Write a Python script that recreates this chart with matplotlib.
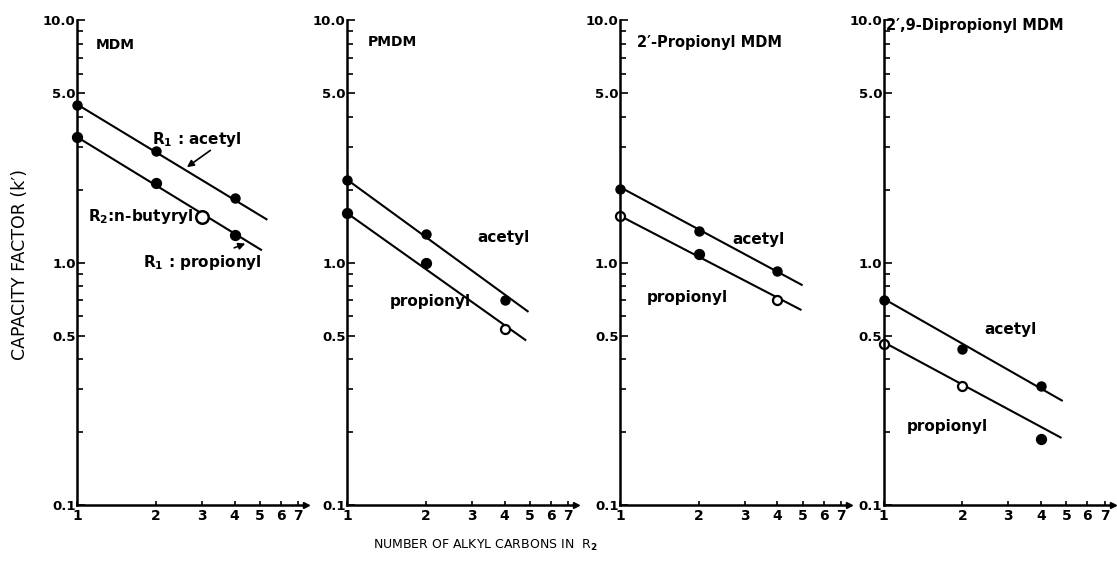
import matplotlib.pyplot as plt
from matplotlib.ticker import FixedLocator, NullFormatter

plt.rcParams['font.family'] = ['DejaVu Sans']
plt.rcParams['font.weight'] = 'bold'

# Datos
titulos = ['MDM', 'PMDM', "2\u2032-Propionyl MDM", "2\u2032,9-Dipropionyl MDM"]

x_acetyl = [[1, 2, 4], [1, 2, 4], [1, 2, 4], [1, 2, 4]]
y_acetyl = [[4.45, 2.9, 1.85], [2.2, 1.31, 0.70], [2.02, 1.35, 0.92], [0.70, 0.44, 0.31]]
x_propionyl = [[1, 2, 4], [1, 2, 4], [1, 2, 4], [1, 2, 4]]
y_propionyl = [[3.3, 2.13, 1.30], [1.6, 1.0, 0.53], [1.56, 1.09, 0.70], [0.46, 0.31, 0.188]]
abierto_propionyl = [[False, False, False], [False, False, True], [True, False, True], [True, True, False]]

# n-butyryl (panel MDM)
x_butyryl = [3]
y_butyryl = [1.54]

# rectas ajustadas (inicio, fin)
lx_acetyl = [[1, 5.3], [1, 4.9], [1, 4.95], [1, 4.8]]
ly_acetyl = [[4.5, 1.51], [2.2, 0.63], [2.05, 0.81], [0.71, 0.27]]
lx_propionyl = [[1, 5.05], [1, 4.8], [1, 4.9], [1, 4.75]]
ly_propionyl = [[3.3, 1.13], [1.6, 0.48], [1.56, 0.64], [0.47, 0.19]]

yticks = [0.1, 0.5, 1.0, 5.0, 10.0]
yticklabels = ['0.1', '0.5', '1.0', '5.0', '10.0']
xticks = [1, 2, 3, 4, 5, 6, 7]
xticklabels = ['1', '2', '3', '4', '5', '6', '7']
yminor = [0.2, 0.3, 0.4, 0.6, 0.7, 0.8, 0.9, 2, 3, 4, 6, 7, 8, 9]

fig = plt.figure(figsize=(11.17, 5.67), dpi=100)
lefts = [0.0689, 0.3107, 0.555, 0.791]
titulo_pos = [(0.08, 0.948), (0.09, 0.955), (0.075, 0.955), (0.01, 0.99)]
titulo_size = [10, 10, 10.5, 10.5]

axes = []
for i in range(4):
    ax = fig.add_axes([lefts[i], 0.1093, 0.205, 0.855])
    axes.append(ax)
    ax.set_xscale('log')
    ax.set_yscale('log')
    ax.set_xlim(1, 7.5)
    ax.set_ylim(0.1, 10)
    for s in ['top', 'right']:
        ax.spines[s].set_visible(False)
    for s in ['left', 'bottom']:
        ax.spines[s].set_linewidth(1.8)
    ax.plot([1], [0], marker='>', color='black', markersize=5,
            transform=ax.transAxes, clip_on=False)

    ax.yaxis.set_major_locator(FixedLocator(yticks))
    ax.set_yticklabels(yticklabels)
    ax.yaxis.set_minor_locator(FixedLocator(yminor))
    ax.yaxis.set_minor_formatter(NullFormatter())
    ax.xaxis.set_major_locator(FixedLocator(xticks))
    ax.set_xticklabels(xticklabels)
    ax.xaxis.set_minor_locator(FixedLocator([]))
    ax.tick_params(axis='y', which='major', direction='in', length=6, width=1.2,
                   labelsize=9.5, pad=1)
    ax.tick_params(axis='y', which='minor', direction='in', length=4, width=1.2)
    ax.tick_params(axis='x', which='major', direction='in', length=3, width=1.2,
                   labelsize=10, pad=3)

    # rectas
    ax.plot(lx_acetyl[i], ly_acetyl[i], color='black', lw=1.5)
    ax.plot(lx_propionyl[i], ly_propionyl[i], color='black', lw=1.5)

    # puntos
    ax.plot(x_acetyl[i], y_acetyl[i], 'o', color='black', markersize=6.5, clip_on=False)
    for xv, yv, ab in zip(x_propionyl[i], y_propionyl[i], abierto_propionyl[i]):
        ax.plot(xv, yv, 'o', markersize=6.5, markeredgecolor='black', markeredgewidth=1.6,
                markerfacecolor='white' if ab else 'black', clip_on=False)

    ax.text(titulo_pos[i][0], titulo_pos[i][1], titulos[i], transform=ax.transAxes,
            fontsize=titulo_size[i], ha='left', va='center')

# MDM
ax = axes[0]
ax.plot(x_butyryl, y_butyryl, 'o', markersize=9, markeredgecolor='black',
        markeredgewidth=1.8, markerfacecolor='white')
ax.text(1.93, 3.22, r'R$_1$ : acetyl', fontsize=11, va='center')
ax.annotate('', xy=(2.58, 2.44), xytext=(3.3, 2.95),
            arrowprops=dict(arrowstyle='-|>', color='black', lw=1.2))
ax.text(1.10, 1.55, r'R$_2$:n-butyryl', fontsize=11, va='center')
ax.text(1.79, 1.0, r'R$_1$ : propionyl', fontsize=11, va='center')
ax.annotate('', xy=(4.5, 1.21), xytext=(3.9, 1.14),
            arrowprops=dict(arrowstyle='-|>', color='black', lw=1.2))

# PMDM
axes[1].text(3.16, 1.27, 'acetyl', fontsize=11, va='center')
axes[1].text(1.46, 0.69, 'propionyl', fontsize=11, va='center')
# 2'-Propionyl
axes[2].text(2.70, 1.24, 'acetyl', fontsize=11, va='center')
axes[2].text(1.27, 0.72, 'propionyl', fontsize=11, va='center')
# 2',9-Dipropionyl
axes[3].text(2.43, 0.53, 'acetyl', fontsize=11, va='center')
axes[3].text(1.23, 0.21, 'propionyl', fontsize=11, va='center')

fig.text(0.018, 0.534, "CAPACITY FACTOR (k\u2032)", rotation=90, fontsize=12.5,
         fontweight='normal', ha='center', va='center')
fig.text(0.434, 0.038, r'NUMBER OF ALKYL CARBONS IN  R$_2$', fontsize=9,
         fontweight='normal', ha='center', va='center')

plt.savefig('out.png', dpi=100)
